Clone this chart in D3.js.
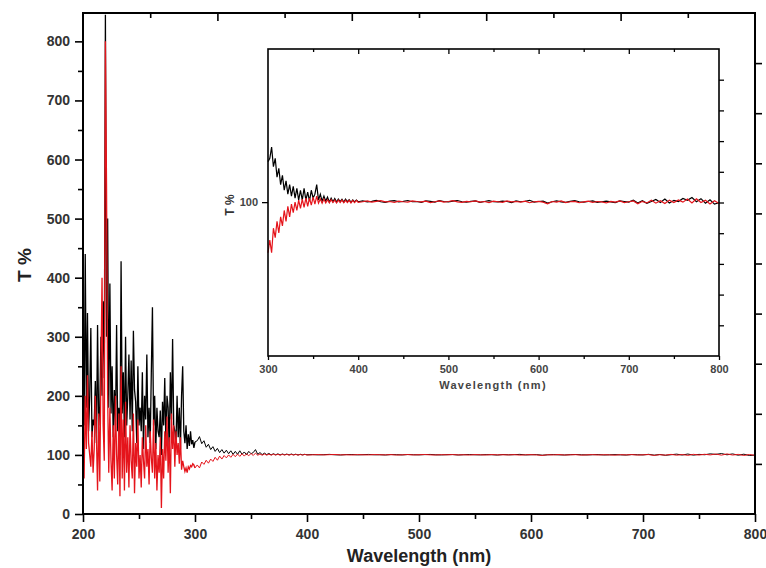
<!DOCTYPE html>
<html>
<head>
<meta charset="utf-8">
<script src="https://cdn.jsdelivr.net/npm/d3@7"></script>
<style>
  body { margin: 0; background: #fff; }
  svg { display: block; font-family: "Liberation Sans", Arial, sans-serif; }
</style>
</head>
<body>
<svg></svg>
<script>
// wavelength sampling of the three read-off segments (nm)
let uvStart = 200, uvStep = 1;
let midStart = 302, midStep = 2;
let visStart = 405, visStep = 5;

// T %, 200..300 nm every 1 nm
let blackUV = [230,150,440,180,340,140,200,315,130,160,
  150,225,120,320,150,180,300,200,360,230,
  845,300,500,180,390,170,250,130,210,150,
  320,140,180,100,428,170,240,130,300,150,
  200,270,160,260,140,310,210,190,120,250,
  150,180,140,240,110,200,160,270,130,180,
  120,240,350,150,200,110,180,140,130,175,
  100,190,150,230,120,200,180,110,240,160,
  296,150,140,120,200,130,180,110,200,250,
  140,120,150,110,135,115,140,118,125,112,122];
let redUV = [120,60,200,110,235,120,100,80,140,70,
  110,200,130,40,170,55,240,400,150,90,
  800,560,200,70,180,90,40,150,60,200,
  100,50,170,30,250,60,160,40,190,70,
  130,45,150,90,60,170,35,120,80,160,
  60,100,45,130,90,60,150,80,110,50,
  140,95,70,160,60,120,40,100,70,130,
  10,110,60,140,90,165,70,130,35,170,
  110,150,80,140,100,120,85,130,75,90,
  80,72,78,70,80,76,82,80,85,83,78];

// 302..400 nm every 2 nm
let blackMid = [124,131,119,124,113,118,109,114,106,111,
  104,109,103,108,102,107,101,106,101,107,
  101,105,100.5,106,102,104,109,101,104,100.5,
  103,100.5,102.5,100,102,100.2,101.8,100,101.5,100.3,
  101.4,100,101.5,100.2,101.2,99.9,101.1,100.1,101,100.2];
let redMid = [83,78,88,84,91,86,93,89,96,91,
  98,93,99,95,100,96,101,97,101.5,97.5,
  102,98,102,98.5,102.5,99,103,99.5,101.5,99.5,
  101.5,99.6,101.2,99.7,101.2,99.8,101,99.6,101,99.8,
  101,99.7,100.9,99.8,100.9,99.6,100.8,99.8,100.9,99.9];

// 405..800 nm every 5 nm
let blackVis = [100.6,100.1,100.4,100.9,100.2,99.9,100.5,100.7,100.1,100.4,
  100.8,100.2,100.3,99.9,100.6,100.4,100.0,100.7,100.3,100.1,
  100.5,100.8,100.2,100.0,100.4,100.6,99.9,100.3,100.7,100.2,
  100.1,100.5,100.3,99.8,100.6,100.2,100.4,100.9,100.0,100.3,
  100.5,99.5,100.2,100.6,100.1,99.9,100.4,100.7,100.2,100.0,
  100.3,100.6,99.9,100.2,100.5,100.1,99.8,100.6,100.3,100.0,
  101.0,99.6,100.7,99.4,100.3,101.3,99.8,101.5,99.6,100.9,
  100.3,101.8,100.9,102.3,100.2,101.7,99.5,101.2,99.0,99.7];
let redVis = [100.2,100.6,100.0,100.4,100.7,100.1,100.3,99.9,100.5,100.2,
  100.0,100.6,100.3,100.1,100.5,99.8,100.2,100.6,100.0,100.3,
  100.7,100.1,99.9,100.4,100.2,100.6,100.0,100.3,99.8,100.5,
  100.2,99.9,100.6,100.1,100.3,100.0,100.5,99.7,100.2,100.4,
  100.0,99.2,100.3,100.0,100.6,99.8,100.2,100.4,99.7,100.1,
  100.5,99.9,100.3,100.1,99.6,100.4,100.0,100.6,99.8,100.2,
  100.6,99.2,100.4,99.6,100.9,99.5,100.7,99.3,101.0,99.8,
  101.1,100.0,101.5,99.6,101.7,99.8,100.9,99.1,100.7,99.3];

// tick labels
let xTicks = [200,300,400,500,600,700,800];
let yTicks = [0,100,200,300,400,500,600,700,800];
let insetXTicks = [300,400,500,600,700,800];
let insetYTicks = [100];

let build = (start, step, vals) => vals.map((v, i) => ({x: start + i*step, y: v}));
let black = build(uvStart, uvStep, blackUV).concat(build(midStart, midStep, blackMid), build(visStart, visStep, blackVis));
let red = build(uvStart, uvStep, redUV).concat(build(midStart, midStep, redMid), build(visStart, visStep, redVis));

let svgWidth = 766, svgHeight = 568;
let svg = d3.select('svg').attr('width', svgWidth).attr('height', svgHeight);

let redColor = '#e5141b';

// ---------- main plot ----------
let x = d3.scaleLinear().domain([200, 800]).range([83, 755]);
let y = d3.scaleLinear().domain([0, 848]).range([514, 13]);

let line = d3.line().x(d => x(d.x)).y(d => y(d.y));

// noisy UV part drawn a bit heavier, flat visible part thin
[[black, '#000'], [red, redColor]].forEach(([s, c]) => {
  svg.append('path').datum(s.filter(d => d.x <= 300)).attr('d', line)
    .attr('fill', 'none').attr('stroke', c).attr('stroke-width', 1.3);
  svg.append('path').datum(s.filter(d => d.x >= 300)).attr('d', line)
    .attr('fill', 'none').attr('stroke', c).attr('stroke-width', 1);
});

function styleAxis(g, size, color) {
  g.select('.domain').remove();
  g.selectAll('.tick line').attr('stroke', '#000').attr('stroke-width', 1.6);
  g.selectAll('text').attr('font-size', size).attr('font-weight', 'bold')
    .attr('fill', color).attr('font-family', '"Liberation Sans", Arial, sans-serif');
}

let xMinor = d3.range(250, 800, 100);
let yMinor = d3.range(50, 800, 100);

svg.append('g').attr('transform', 'translate(0,514)')
  .call(d3.axisBottom(x).tickValues(xTicks).tickSize(8).tickPadding(7).tickFormat(d3.format('d')))
  .call(g => styleAxis(g, 14, '#333'));
svg.append('g').attr('transform', 'translate(0,514)')
  .call(d3.axisBottom(x).tickValues(xMinor).tickSize(5).tickFormat(''))
  .call(g => styleAxis(g, 14, '#333'));
svg.append('g').attr('transform', 'translate(83,0)')
  .call(d3.axisLeft(y).tickValues(yTicks).tickSize(8).tickPadding(5).tickFormat(d3.format('d')))
  .call(g => styleAxis(g, 14, '#333'));
svg.append('g').attr('transform', 'translate(83,0)')
  .call(d3.axisLeft(y).tickValues(yMinor).tickSize(5).tickFormat(''))
  .call(g => styleAxis(g, 14, '#333'));

// mirror ticks on top and right (10 divisions, inward)
let topDiv = d3.scaleLinear().domain([0, 10]).range([83, 755]);
let rightDiv = d3.scaleLinear().domain([0, 10]).range([514, 13]);
svg.append('g').attr('transform', 'translate(0,13)')
  .call(d3.axisBottom(topDiv).tickValues(d3.range(1, 10)).tickSize(6).tickFormat(''))
  .call(g => styleAxis(g, 14, '#333'))
  .call(g => g.selectAll('.tick line').attr('y2', d => d % 2 ? 5 : 8));
svg.append('g').attr('transform', 'translate(755,0)')
  .call(d3.axisLeft(rightDiv).tickValues(d3.range(1, 10)).tickSize(7).tickFormat(''))
  .call(g => styleAxis(g, 14, '#333'))
  .call(g => g.selectAll('.tick line').attr('x2', 7));

svg.append('rect').attr('x', 83).attr('y', 13).attr('width', 672).attr('height', 501)
  .attr('fill', 'none').attr('stroke', '#000').attr('stroke-width', 2);

svg.append('text').attr('x', 419).attr('y', 562).attr('text-anchor', 'middle')
  .attr('font-size', 18).attr('font-weight', 'bold').attr('fill', '#222')
  .text('Wavelength (nm)');
svg.append('text').attr('transform', 'translate(31,265) rotate(-90)').attr('text-anchor', 'middle')
  .attr('font-size', 19).attr('font-weight', 'bold').attr('fill', '#222')
  .text('T %');

// ---------- inset ----------
let ix = d3.scaleLinear().domain([300, 800]).range([268, 719]);
let iy = d3.scaleLog().domain([47, 212]).range([356, 49]);
let iline = d3.line().x(d => ix(d.x)).y(d => iy(d.y));

svg.append('rect').attr('x', 268).attr('y', 49).attr('width', 451).attr('height', 307)
  .attr('fill', '#fff');

svg.append('path').datum(black.filter(d => d.x >= 300)).attr('d', iline)
  .attr('fill', 'none').attr('stroke', '#000').attr('stroke-width', 1.2);
svg.append('path').datum(red.filter(d => d.x >= 300)).attr('d', iline)
  .attr('fill', 'none').attr('stroke', redColor).attr('stroke-width', 1.2);

svg.append('g').attr('transform', 'translate(0,356)')
  .call(d3.axisBottom(ix).tickValues(insetXTicks).tickSize(4).tickPadding(5).tickFormat(d3.format('d')))
  .call(g => styleAxis(g, 11, '#444'))
  .call(g => g.selectAll('.tick line').attr('stroke-width', 1.3));
svg.append('g').attr('transform', 'translate(0,356)')
  .call(d3.axisBottom(ix).tickValues(d3.range(350, 800, 100)).tickSize(3).tickFormat(''))
  .call(g => styleAxis(g, 11, '#444'))
  .call(g => g.selectAll('.tick line').attr('stroke-width', 1.3));
svg.append('g').attr('transform', 'translate(0,49)')
  .call(d3.axisBottom(ix).tickValues(d3.range(350, 800, 50)).tickSize(4).tickFormat(''))
  .call(g => styleAxis(g, 11, '#444'))
  .call(g => g.selectAll('.tick line').attr('stroke-width', 1.3).attr('y2', d => d % 100 ? 3 : 5));
svg.append('g').attr('transform', 'translate(268,0)')
  .call(d3.axisLeft(iy).tickValues(insetYTicks).tickSize(6).tickPadding(4).tickFormat(d3.format('d')))
  .call(g => styleAxis(g, 11, '#444'))
  .call(g => g.selectAll('.tick line').attr('stroke-width', 1.3));

let insetRight = d3.scaleLinear().domain([0, 10]).range([356, 49]);
svg.append('g').attr('transform', 'translate(719,0)')
  .call(d3.axisLeft(insetRight).tickValues(d3.range(1, 10)).tickSize(5).tickFormat(''))
  .call(g => styleAxis(g, 11, '#444'))
  .call(g => g.selectAll('.tick line').attr('stroke-width', 1.3).attr('x2', 5));

svg.append('rect').attr('x', 268).attr('y', 49).attr('width', 451).attr('height', 307)
  .attr('fill', 'none').attr('stroke', '#000').attr('stroke-width', 1.6);

svg.append('text').attr('x', 493).attr('y', 389).attr('text-anchor', 'middle')
  .attr('font-size', 11).attr('font-weight', 'bold').attr('fill', '#444')
  .attr('letter-spacing', 1.3)
  .text('Wavelength (nm)');
svg.append('text').attr('transform', 'translate(234,205) rotate(-90)').attr('text-anchor', 'middle')
  .attr('font-size', 12).attr('font-weight', 'bold').attr('fill', '#333')
  .text('T %');
</script>
</body>
</html>
